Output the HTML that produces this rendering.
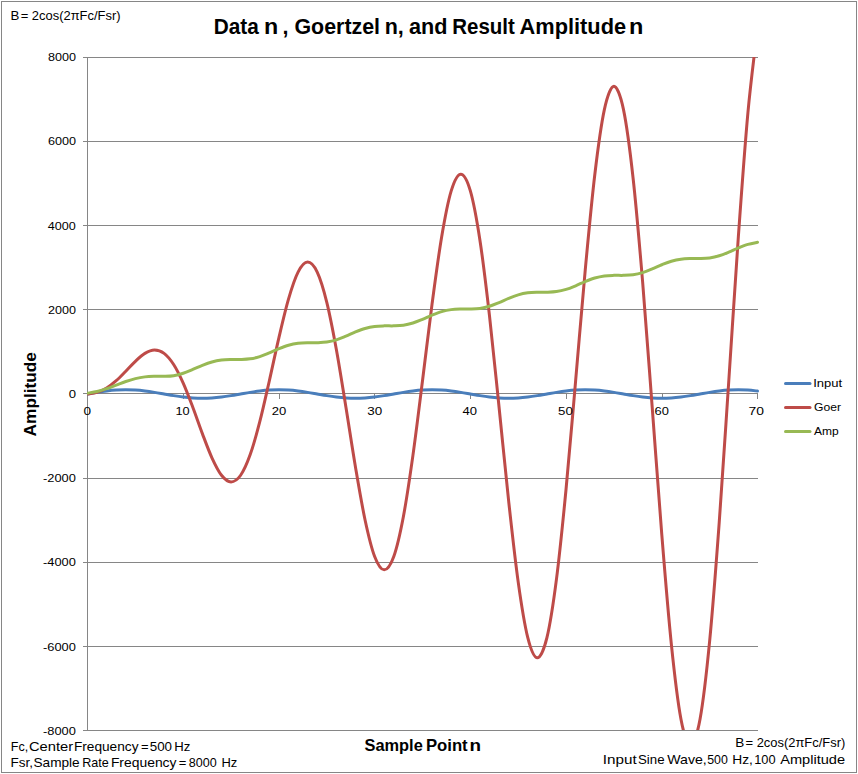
<!DOCTYPE html>
<html><head><meta charset="utf-8"><style>html,body{margin:0;padding:0;background:#fff;width:858px;height:774px;overflow:hidden;position:relative}</style></head>
<body>
<svg width="858" height="774" viewBox="0 0 858 774" style="position:absolute;left:0;top:0;display:block">
<rect x="1.5" y="1.5" width="855" height="771" fill="#fff" stroke="#868686" stroke-width="1"/>
<path d="M83,57.5H758 M83,141.5H758 M83,225.5H758 M83,309.5H758 M83,393.5H758 M83,478.5H758 M83,562.5H758 M83,646.5H758 M83,730.5H758 M87.5,57V731 M87.5,393V399 M183.5,393V399 M279.5,393V399 M374.5,393V399 M470.5,393V399 M566.5,393V399 M662.5,393V399 M757.5,393V399" stroke="#868686" stroke-width="1" fill="none" shape-rendering="crispEdges"/>
<defs><clipPath id="pa"><rect x="87" y="57" width="680" height="673"/></clipPath></defs>
<g clip-path="url(#pa)" fill="none" stroke-width="3" stroke-linejoin="round" stroke-linecap="round">
<path d="M87.50,394.00 C89.10,393.73 93.88,392.89 97.07,392.39 C100.26,391.89 103.45,391.41 106.64,391.03 C109.83,390.65 113.02,390.32 116.21,390.11 C119.40,389.91 122.60,389.79 125.79,389.79 C128.98,389.79 132.17,389.91 135.36,390.11 C138.55,390.32 141.74,390.65 144.93,391.03 C148.12,391.41 151.31,391.89 154.50,392.39 C157.69,392.89 160.88,393.46 164.07,394.00 C167.26,394.54 170.45,395.11 173.64,395.61 C176.83,396.11 180.02,396.59 183.21,396.97 C186.40,397.35 189.60,397.68 192.79,397.89 C195.98,398.09 199.17,398.21 202.36,398.21 C205.55,398.21 208.74,398.09 211.93,397.89 C215.12,397.68 218.31,397.35 221.50,396.97 C224.69,396.59 227.88,396.11 231.07,395.61 C234.26,395.11 237.45,394.54 240.64,394.00 C243.83,393.46 247.02,392.89 250.21,392.39 C253.40,391.89 256.60,391.41 259.79,391.03 C262.98,390.65 266.17,390.32 269.36,390.11 C272.55,389.91 275.74,389.79 278.93,389.79 C282.12,389.79 285.31,389.91 288.50,390.11 C291.69,390.32 294.88,390.65 298.07,391.03 C301.26,391.41 304.45,391.89 307.64,392.39 C310.83,392.89 314.02,393.46 317.21,394.00 C320.40,394.54 323.60,395.11 326.79,395.61 C329.98,396.11 333.17,396.59 336.36,396.97 C339.55,397.35 342.74,397.68 345.93,397.89 C349.12,398.09 352.31,398.21 355.50,398.21 C358.69,398.21 361.88,398.09 365.07,397.89 C368.26,397.68 371.45,397.35 374.64,396.97 C377.83,396.59 381.02,396.11 384.21,395.61 C387.40,395.11 390.60,394.54 393.79,394.00 C396.98,393.46 400.17,392.89 403.36,392.39 C406.55,391.89 409.74,391.41 412.93,391.03 C416.12,390.65 419.31,390.32 422.50,390.11 C425.69,389.91 428.88,389.79 432.07,389.79 C435.26,389.79 438.45,389.91 441.64,390.11 C444.83,390.32 448.02,390.65 451.21,391.03 C454.40,391.41 457.60,391.89 460.79,392.39 C463.98,392.89 467.17,393.46 470.36,394.00 C473.55,394.54 476.74,395.11 479.93,395.61 C483.12,396.11 486.31,396.59 489.50,396.97 C492.69,397.35 495.88,397.68 499.07,397.89 C502.26,398.09 505.45,398.21 508.64,398.21 C511.83,398.21 515.02,398.09 518.21,397.89 C521.40,397.68 524.60,397.35 527.79,396.97 C530.98,396.59 534.17,396.11 537.36,395.61 C540.55,395.11 543.74,394.54 546.93,394.00 C550.12,393.46 553.31,392.89 556.50,392.39 C559.69,391.89 562.88,391.41 566.07,391.03 C569.26,390.65 572.45,390.32 575.64,390.11 C578.83,389.91 582.02,389.79 585.21,389.79 C588.40,389.79 591.60,389.91 594.79,390.11 C597.98,390.32 601.17,390.65 604.36,391.03 C607.55,391.41 610.74,391.89 613.93,392.39 C617.12,392.89 620.31,393.46 623.50,394.00 C626.69,394.54 629.88,395.11 633.07,395.61 C636.26,396.11 639.45,396.59 642.64,396.97 C645.83,397.35 649.02,397.68 652.21,397.89 C655.40,398.09 658.60,398.21 661.79,398.21 C664.98,398.21 668.17,398.09 671.36,397.89 C674.55,397.68 677.74,397.35 680.93,396.97 C684.12,396.59 687.31,396.11 690.50,395.61 C693.69,395.11 696.88,394.54 700.07,394.00 C703.26,393.46 706.45,392.89 709.64,392.39 C712.83,391.89 716.02,391.41 719.21,391.03 C722.40,390.65 725.60,390.32 728.79,390.11 C731.98,389.91 735.17,389.79 738.36,389.79 C741.55,389.79 744.74,389.91 747.93,390.11 C751.12,390.32 755.90,390.87 757.50,391.03" stroke="#4A7EBB"/>
<path d="M87.50,394.00 C89.10,393.73 93.88,393.38 97.07,392.39 C100.26,391.40 103.45,389.99 106.64,388.05 C109.83,386.11 113.02,383.54 116.21,380.73 C119.40,377.93 122.60,374.46 125.79,371.23 C128.98,367.99 132.17,364.28 135.36,361.30 C138.55,358.33 141.74,355.26 144.93,353.38 C148.12,351.50 151.31,350.03 154.50,350.03 C157.69,350.03 160.88,350.97 164.07,353.38 C167.26,355.80 170.45,359.56 173.64,364.52 C176.83,369.48 180.02,376.00 183.21,383.12 C186.40,390.25 189.60,398.86 192.79,407.27 C195.98,415.68 199.17,425.18 202.36,433.60 C205.55,442.02 208.74,450.85 211.93,457.79 C215.12,464.73 218.31,471.21 221.50,475.24 C224.69,479.26 227.88,481.93 231.07,481.93 C234.26,481.93 237.45,479.80 240.64,475.24 C243.83,470.68 247.02,463.49 250.21,454.57 C253.40,445.64 256.60,434.01 259.79,421.70 C262.98,409.40 266.17,394.75 269.36,380.73 C272.55,366.71 275.74,351.18 278.93,337.58 C282.12,323.98 285.31,310.03 288.50,299.12 C291.69,288.22 294.88,278.31 298.07,272.14 C301.26,265.98 304.45,262.10 307.64,262.10 C310.83,262.10 314.23,265.88 317.21,272.14 C320.40,278.85 323.60,289.46 326.79,302.34 C329.98,315.23 333.17,331.99 336.36,349.47 C339.55,366.96 342.74,387.64 345.93,407.27 C349.12,426.90 352.31,448.47 355.50,467.25 C358.69,486.03 361.88,505.09 365.07,519.96 C368.26,534.84 371.45,548.16 374.64,556.48 C377.59,564.16 381.02,569.86 384.21,569.86 C387.40,569.86 391.00,564.22 393.79,556.48 C396.98,547.62 400.17,533.60 403.36,516.74 C406.55,499.89 409.74,478.02 412.93,455.35 C416.12,432.68 419.31,405.97 422.50,380.73 C425.69,355.49 428.88,327.89 432.07,303.93 C435.26,279.96 438.45,255.78 441.64,236.95 C444.83,218.11 448.02,201.37 451.21,190.90 C454.03,181.68 457.60,174.17 460.79,174.17 C463.98,174.17 467.67,181.65 470.36,190.90 C473.55,201.90 476.74,219.35 479.93,240.17 C483.12,260.99 486.31,287.97 489.50,315.82 C492.69,343.67 495.88,376.42 499.07,407.27 C502.26,438.11 505.45,471.75 508.64,500.90 C511.83,530.04 515.02,559.34 518.21,582.14 C521.40,604.94 524.60,625.11 527.79,637.71 C530.51,648.50 534.17,657.80 537.36,657.80 C540.55,657.80 544.31,648.52 546.93,637.71 C550.12,624.57 553.31,603.71 556.50,578.92 C559.69,554.14 562.88,522.03 566.07,489.00 C569.26,455.97 572.45,417.19 575.64,380.73 C578.83,344.28 582.02,304.60 585.21,270.28 C588.40,235.95 591.60,201.54 594.79,174.77 C597.98,148.00 601.17,124.42 604.36,109.67 C607.03,97.30 610.74,86.24 613.93,86.24 C617.12,86.24 620.92,97.28 623.50,109.67 C626.69,124.96 629.88,149.24 633.07,177.99 C636.26,206.74 639.45,243.96 642.64,282.17 C645.83,320.39 649.02,365.21 652.21,407.27 C655.40,449.33 658.60,495.04 661.79,534.55 C664.98,574.06 668.17,613.58 671.36,644.32 C674.55,675.05 677.74,702.05 680.93,718.95 C683.57,732.92 687.31,745.73 690.50,745.73 C693.69,745.73 697.51,732.94 700.07,718.95 C703.26,701.52 706.45,673.82 709.64,641.10 C712.83,608.38 716.02,566.05 719.21,522.65 C722.40,479.26 725.60,428.40 728.79,380.73 C731.98,333.06 735.17,281.32 738.36,236.63 C741.55,191.94 744.74,147.29 747.93,112.59 C751.12,77.89 755.90,42.46 757.50,28.43" stroke="#BE4B48"/>
<path d="M87.50,394.00 C89.10,393.73 93.88,393.14 97.07,392.39 C100.26,391.64 103.45,390.58 106.64,389.50 C109.83,388.41 113.02,387.10 116.21,385.90 C119.40,384.71 122.60,383.40 125.79,382.32 C128.98,381.25 132.17,380.21 135.36,379.44 C138.55,378.68 141.74,378.10 144.93,377.72 C148.12,377.34 151.31,377.27 154.50,377.18 C157.69,377.08 160.88,377.29 164.07,377.18 C167.26,377.06 170.45,377.00 173.64,376.50 C176.83,375.99 180.02,375.16 183.21,374.13 C186.40,373.10 189.60,371.64 192.79,370.31 C195.98,368.99 199.17,367.43 202.36,366.19 C205.55,364.95 208.74,363.74 211.93,362.86 C215.12,361.98 218.31,361.35 221.50,360.93 C224.69,360.51 227.88,360.45 231.07,360.35 C234.26,360.25 237.45,360.46 240.64,360.35 C243.83,360.24 247.02,360.18 250.21,359.70 C253.40,359.22 256.60,358.45 259.79,357.45 C262.98,356.46 266.17,355.04 269.36,353.72 C272.55,352.40 275.74,350.81 278.93,349.54 C282.12,348.28 285.31,347.01 288.50,346.11 C291.69,345.21 294.88,344.55 298.07,344.12 C301.26,343.69 304.45,343.62 307.64,343.53 C310.83,343.43 314.02,343.63 317.21,343.53 C320.40,343.42 323.60,343.36 326.79,342.89 C329.98,342.41 333.17,341.67 336.36,340.68 C339.55,339.70 342.74,338.30 345.93,336.99 C349.12,335.67 352.31,334.08 355.50,332.80 C358.69,331.52 361.88,330.24 365.07,329.32 C368.26,328.40 371.45,327.74 374.64,327.30 C377.83,326.86 381.02,326.80 384.21,326.70 C387.40,326.60 390.60,326.81 393.79,326.70 C396.98,326.59 400.17,326.54 403.36,326.07 C406.55,325.60 409.74,324.86 412.93,323.89 C416.12,322.91 419.31,321.53 422.50,320.22 C425.69,318.90 428.88,317.30 432.07,316.02 C435.26,314.74 438.45,313.44 441.64,312.51 C444.83,311.59 448.02,310.92 451.21,310.48 C454.40,310.04 457.60,309.98 460.79,309.88 C463.98,309.77 467.17,309.98 470.36,309.88 C473.55,309.77 476.74,309.71 479.93,309.25 C483.12,308.78 486.31,308.05 489.50,307.08 C492.69,306.11 495.88,304.73 499.07,303.42 C502.26,302.11 505.45,300.51 508.64,299.22 C511.83,297.94 515.02,296.63 518.21,295.70 C521.40,294.78 524.60,294.10 527.79,293.65 C530.98,293.21 534.17,293.15 537.36,293.05 C540.55,292.95 543.74,293.15 546.93,293.05 C550.12,292.95 553.31,292.89 556.50,292.42 C559.69,291.96 562.88,291.24 566.07,290.27 C569.26,289.30 572.45,287.93 575.64,286.62 C578.83,285.31 582.02,283.71 585.21,282.42 C588.40,281.13 591.60,279.82 594.79,278.89 C597.98,277.96 601.17,277.28 604.36,276.83 C607.55,276.39 610.74,276.33 613.93,276.22 C617.12,276.12 620.31,276.33 623.50,276.22 C626.69,276.12 629.88,276.06 633.07,275.60 C636.26,275.14 639.45,274.42 642.64,273.45 C645.83,272.49 649.02,271.12 652.21,269.81 C655.40,268.50 658.60,266.90 661.79,265.61 C664.98,264.32 668.17,263.00 671.36,262.07 C674.55,261.14 677.74,260.45 680.93,260.01 C684.12,259.56 687.31,259.50 690.50,259.40 C693.69,259.30 696.88,259.50 700.07,259.40 C703.26,259.30 706.45,259.24 709.64,258.78 C712.83,258.31 716.02,257.60 719.21,256.63 C722.40,255.67 725.60,254.31 728.79,253.00 C731.98,251.69 735.17,250.09 738.36,248.80 C741.55,247.50 744.74,246.19 747.93,245.25 C751.12,244.32 755.90,243.53 757.50,243.18" stroke="#98B954" transform="translate(0,-0.85)"/>
</g>
<path d="M785.5,383.5H810" stroke="#4A7EBB" stroke-width="3" stroke-linecap="round"/>
<path d="M785.5,407.5H810" stroke="#BE4B48" stroke-width="3" stroke-linecap="round"/>
<path d="M785.5,431.5H810" stroke="#98B954" stroke-width="3" stroke-linecap="round"/>
<text x="10.51" y="20.00" font-family='"Liberation Sans", sans-serif' font-size="13.00" font-weight="normal" fill="#000" textLength="8.83" lengthAdjust="spacingAndGlyphs" xml:space="preserve">B</text>
<text x="20.69" y="20.00" font-family='"Liberation Sans", sans-serif' font-size="13.00" font-weight="normal" fill="#000" xml:space="preserve">=</text>
<text x="31.85" y="20.00" font-family='"Liberation Sans", sans-serif' font-size="13.00" font-weight="normal" fill="#000" textLength="88.67" lengthAdjust="spacingAndGlyphs" xml:space="preserve">2cos(2πFc/Fsr)</text>
<text x="213.74" y="34.00" font-family='"Liberation Sans", sans-serif' font-size="21.50" font-weight="bold" fill="#000" textLength="45.02" lengthAdjust="spacingAndGlyphs" xml:space="preserve">Data</text>
<text x="264.03" y="34.00" font-family='"Liberation Sans", sans-serif' font-size="21.50" font-weight="bold" fill="#000" textLength="14.23" lengthAdjust="spacingAndGlyphs" xml:space="preserve">n</text>
<text x="282.44" y="34.00" font-family='"Liberation Sans", sans-serif' font-size="21.50" font-weight="bold" fill="#000" xml:space="preserve">,</text>
<text x="294.47" y="34.00" font-family='"Liberation Sans", sans-serif' font-size="21.50" font-weight="bold" fill="#000" textLength="85.60" lengthAdjust="spacingAndGlyphs" xml:space="preserve">Goertzel</text>
<text x="384.72" y="34.00" font-family='"Liberation Sans", sans-serif' font-size="21.50" font-weight="bold" fill="#000" xml:space="preserve">n,</text>
<text x="408.95" y="34.00" font-family='"Liberation Sans", sans-serif' font-size="21.50" font-weight="bold" fill="#000" textLength="38.44" lengthAdjust="spacingAndGlyphs" xml:space="preserve">and</text>
<text x="452.21" y="34.00" font-family='"Liberation Sans", sans-serif' font-size="21.50" font-weight="bold" fill="#000" textLength="62.59" lengthAdjust="spacingAndGlyphs" xml:space="preserve">Result</text>
<text x="519.52" y="34.00" font-family='"Liberation Sans", sans-serif' font-size="21.50" font-weight="bold" fill="#000" textLength="106.55" lengthAdjust="spacingAndGlyphs" xml:space="preserve">Amplitude</text>
<text x="628.92" y="34.00" font-family='"Liberation Sans", sans-serif' font-size="21.50" font-weight="bold" fill="#000" textLength="14.36" lengthAdjust="spacingAndGlyphs" xml:space="preserve">n</text>
<text x="47.97" y="61.00" font-family='"Liberation Sans", sans-serif' font-size="11.00" font-weight="normal" fill="#000" textLength="28.03" lengthAdjust="spacingAndGlyphs" xml:space="preserve">8000</text>
<text x="47.91" y="145.00" font-family='"Liberation Sans", sans-serif' font-size="11.00" font-weight="normal" fill="#000" textLength="28.10" lengthAdjust="spacingAndGlyphs" xml:space="preserve">6000</text>
<text x="47.75" y="230.00" font-family='"Liberation Sans", sans-serif' font-size="11.00" font-weight="normal" fill="#000" textLength="28.04" lengthAdjust="spacingAndGlyphs" xml:space="preserve">4000</text>
<text x="48.04" y="314.00" font-family='"Liberation Sans", sans-serif' font-size="11.00" font-weight="normal" fill="#000" textLength="27.94" lengthAdjust="spacingAndGlyphs" xml:space="preserve">2000</text>
<text x="68.75" y="398.00" font-family='"Liberation Sans", sans-serif' font-size="11.00" font-weight="normal" fill="#000" textLength="7.30" lengthAdjust="spacingAndGlyphs" xml:space="preserve">0</text>
<text x="42.97" y="482.00" font-family='"Liberation Sans", sans-serif' font-size="11.00" font-weight="normal" fill="#000" textLength="32.85" lengthAdjust="spacingAndGlyphs" xml:space="preserve">-2000</text>
<text x="42.97" y="566.00" font-family='"Liberation Sans", sans-serif' font-size="11.00" font-weight="normal" fill="#000" textLength="32.85" lengthAdjust="spacingAndGlyphs" xml:space="preserve">-4000</text>
<text x="42.97" y="651.00" font-family='"Liberation Sans", sans-serif' font-size="11.00" font-weight="normal" fill="#000" textLength="32.85" lengthAdjust="spacingAndGlyphs" xml:space="preserve">-6000</text>
<text x="42.97" y="735.00" font-family='"Liberation Sans", sans-serif' font-size="11.00" font-weight="normal" fill="#000" textLength="32.85" lengthAdjust="spacingAndGlyphs" xml:space="preserve">-8000</text>
<text x="83.62" y="415.00" font-family='"Liberation Sans", sans-serif' font-size="11.00" font-weight="normal" fill="#000" textLength="7.55" lengthAdjust="spacingAndGlyphs" xml:space="preserve">0</text>
<text x="175.47" y="415.00" font-family='"Liberation Sans", sans-serif' font-size="11.00" font-weight="normal" fill="#000" textLength="14.19" lengthAdjust="spacingAndGlyphs" xml:space="preserve">10</text>
<text x="271.65" y="415.00" font-family='"Liberation Sans", sans-serif' font-size="11.00" font-weight="normal" fill="#000" textLength="14.53" lengthAdjust="spacingAndGlyphs" xml:space="preserve">20</text>
<text x="367.22" y="415.00" font-family='"Liberation Sans", sans-serif' font-size="11.00" font-weight="normal" fill="#000" textLength="14.95" lengthAdjust="spacingAndGlyphs" xml:space="preserve">30</text>
<text x="462.59" y="415.00" font-family='"Liberation Sans", sans-serif' font-size="11.00" font-weight="normal" fill="#000" textLength="14.51" lengthAdjust="spacingAndGlyphs" xml:space="preserve">40</text>
<text x="558.04" y="415.00" font-family='"Liberation Sans", sans-serif' font-size="11.00" font-weight="normal" fill="#000" textLength="14.78" lengthAdjust="spacingAndGlyphs" xml:space="preserve">50</text>
<text x="654.56" y="415.00" font-family='"Liberation Sans", sans-serif' font-size="11.00" font-weight="normal" fill="#000" textLength="14.35" lengthAdjust="spacingAndGlyphs" xml:space="preserve">60</text>
<text x="748.55" y="415.00" font-family='"Liberation Sans", sans-serif' font-size="11.00" font-weight="normal" fill="#000" textLength="15.43" lengthAdjust="spacingAndGlyphs" xml:space="preserve">70</text>
<text x="0" y="0" transform="translate(36.00,436.38) rotate(-90)" font-family='"Liberation Sans", sans-serif' font-size="16.50" font-weight="bold" fill="#000" textLength="84.27" lengthAdjust="spacingAndGlyphs" xml:space="preserve">Amplitude</text>
<text x="364.52" y="751.00" font-family='"Liberation Sans", sans-serif' font-size="16.50" font-weight="bold" fill="#000" textLength="58.23" lengthAdjust="spacingAndGlyphs" xml:space="preserve">Sample</text>
<text x="425.90" y="751.00" font-family='"Liberation Sans", sans-serif' font-size="16.50" font-weight="bold" fill="#000" textLength="41.79" lengthAdjust="spacingAndGlyphs" xml:space="preserve">Point</text>
<text x="469.43" y="751.00" font-family='"Liberation Sans", sans-serif' font-size="16.50" font-weight="bold" fill="#000" textLength="11.53" lengthAdjust="spacingAndGlyphs" xml:space="preserve">n</text>
<text x="813.22" y="387.00" font-family='"Liberation Sans", sans-serif' font-size="11.00" font-weight="normal" fill="#000" textLength="28.97" lengthAdjust="spacingAndGlyphs" xml:space="preserve">Input</text>
<text x="813.98" y="411.00" font-family='"Liberation Sans", sans-serif' font-size="11.00" font-weight="normal" fill="#000" textLength="26.97" lengthAdjust="spacingAndGlyphs" xml:space="preserve">Goer</text>
<text x="814.08" y="435.00" font-family='"Liberation Sans", sans-serif' font-size="11.00" font-weight="normal" fill="#000" textLength="24.68" lengthAdjust="spacingAndGlyphs" xml:space="preserve">Amp</text>
<text x="10.75" y="751.00" font-family='"Liberation Sans", sans-serif' font-size="13.00" font-weight="normal" fill="#000" textLength="17.37" lengthAdjust="spacingAndGlyphs" xml:space="preserve">Fc,</text>
<text x="28.94" y="751.00" font-family='"Liberation Sans", sans-serif' font-size="13.00" font-weight="normal" fill="#000" textLength="44.16" lengthAdjust="spacingAndGlyphs" xml:space="preserve">Center</text>
<text x="73.90" y="751.00" font-family='"Liberation Sans", sans-serif' font-size="13.00" font-weight="normal" fill="#000" textLength="64.59" lengthAdjust="spacingAndGlyphs" xml:space="preserve">Frequency</text>
<text x="140.92" y="751.00" font-family='"Liberation Sans", sans-serif' font-size="13.00" font-weight="normal" fill="#000" xml:space="preserve">=</text>
<text x="149.72" y="751.00" font-family='"Liberation Sans", sans-serif' font-size="13.00" font-weight="normal" fill="#000" textLength="22.32" lengthAdjust="spacingAndGlyphs" xml:space="preserve">500</text>
<text x="174.20" y="751.00" font-family='"Liberation Sans", sans-serif' font-size="13.00" font-weight="normal" fill="#000" textLength="16.06" lengthAdjust="spacingAndGlyphs" xml:space="preserve">Hz</text>
<text x="10.59" y="767.00" font-family='"Liberation Sans", sans-serif' font-size="13.00" font-weight="normal" fill="#000" textLength="22.52" lengthAdjust="spacingAndGlyphs" xml:space="preserve">Fsr,</text>
<text x="33.49" y="767.00" font-family='"Liberation Sans", sans-serif' font-size="13.00" font-weight="normal" fill="#000" textLength="46.17" lengthAdjust="spacingAndGlyphs" xml:space="preserve">Sample</text>
<text x="82.20" y="767.00" font-family='"Liberation Sans", sans-serif' font-size="13.00" font-weight="normal" fill="#000" textLength="26.58" lengthAdjust="spacingAndGlyphs" xml:space="preserve">Rate</text>
<text x="110.90" y="767.00" font-family='"Liberation Sans", sans-serif' font-size="13.00" font-weight="normal" fill="#000" textLength="65.61" lengthAdjust="spacingAndGlyphs" xml:space="preserve">Frequency</text>
<text x="178.75" y="767.00" font-family='"Liberation Sans", sans-serif' font-size="13.00" font-weight="normal" fill="#000" xml:space="preserve">=</text>
<text x="188.69" y="767.00" font-family='"Liberation Sans", sans-serif' font-size="13.00" font-weight="normal" fill="#000" textLength="27.97" lengthAdjust="spacingAndGlyphs" xml:space="preserve">8000</text>
<text x="221.43" y="767.00" font-family='"Liberation Sans", sans-serif' font-size="13.00" font-weight="normal" fill="#000" textLength="15.86" lengthAdjust="spacingAndGlyphs" xml:space="preserve">Hz</text>
<text x="735.20" y="747.00" font-family='"Liberation Sans", sans-serif' font-size="13.00" font-weight="normal" fill="#000" textLength="9.01" lengthAdjust="spacingAndGlyphs" xml:space="preserve">B</text>
<text x="745.55" y="747.00" font-family='"Liberation Sans", sans-serif' font-size="13.00" font-weight="normal" fill="#000" xml:space="preserve">=</text>
<text x="756.67" y="747.00" font-family='"Liberation Sans", sans-serif' font-size="13.00" font-weight="normal" fill="#000" textLength="88.59" lengthAdjust="spacingAndGlyphs" xml:space="preserve">2cos(2πFc/Fsr)</text>
<text x="602.81" y="764.00" font-family='"Liberation Sans", sans-serif' font-size="13.00" font-weight="normal" fill="#000" textLength="33.92" lengthAdjust="spacingAndGlyphs" xml:space="preserve">Input</text>
<text x="638.01" y="764.00" font-family='"Liberation Sans", sans-serif' font-size="13.00" font-weight="normal" fill="#000" textLength="26.53" lengthAdjust="spacingAndGlyphs" xml:space="preserve">Sine</text>
<text x="667.29" y="764.00" font-family='"Liberation Sans", sans-serif' font-size="13.00" font-weight="normal" fill="#000" textLength="39.51" lengthAdjust="spacingAndGlyphs" xml:space="preserve">Wave,</text>
<text x="707.18" y="764.00" font-family='"Liberation Sans", sans-serif' font-size="13.00" font-weight="normal" fill="#000" textLength="20.63" lengthAdjust="spacingAndGlyphs" xml:space="preserve">500</text>
<text x="732.28" y="764.00" font-family='"Liberation Sans", sans-serif' font-size="13.00" font-weight="normal" fill="#000" textLength="20.62" lengthAdjust="spacingAndGlyphs" xml:space="preserve">Hz,</text>
<text x="754.19" y="764.00" font-family='"Liberation Sans", sans-serif' font-size="13.00" font-weight="normal" fill="#000" textLength="21.40" lengthAdjust="spacingAndGlyphs" xml:space="preserve">100</text>
<text x="780.21" y="764.00" font-family='"Liberation Sans", sans-serif' font-size="13.00" font-weight="normal" fill="#000" textLength="64.86" lengthAdjust="spacingAndGlyphs" xml:space="preserve">Amplitude</text>
</svg>
</body></html>
